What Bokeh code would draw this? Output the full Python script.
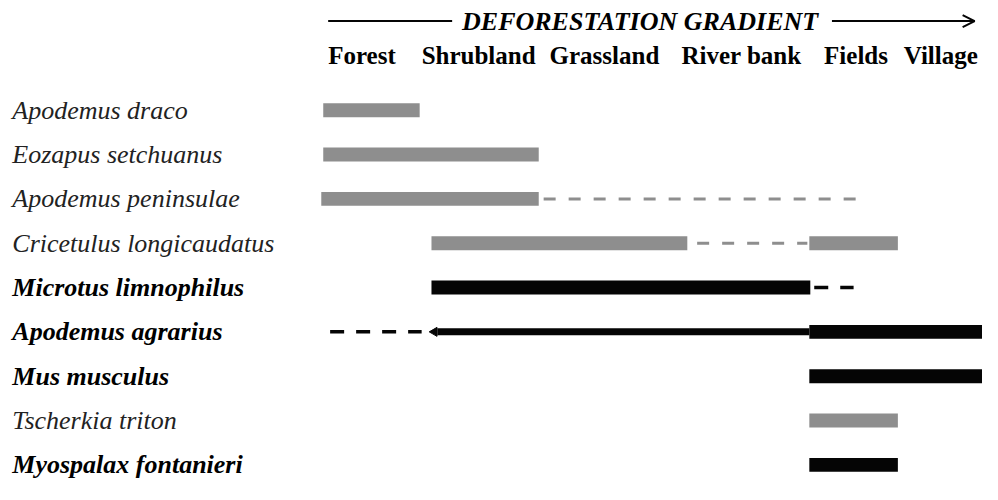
import math
from bokeh.plotting import figure
from bokeh.models import Range1d, Arrow, OpenHead, ColumnDataSource
from bokeh.core.properties import value
from bokeh.embed import file_html
from bokeh.resources import INLINE

# ---------------- data ----------------
species = ["Apodemus draco", "Eozapus setchuanus", "Apodemus peninsulae",
           "Cricetulus longicaudatus", "Microtus limnophilus", "Apodemus agrarius",
           "Mus musculus", "Tscherkia triton", "Myospalax fontanieri"]
species_group = ["grey", "grey", "grey", "grey", "black", "black", "black", "grey", "black"]

habitats = ["Forest", "Shrubland", "Grassland", "River bank", "Fields", "Village"]
habitat_start = [333, 428, 558, 692, 837, 918]

gradient_title = "DEFORESTATION GRADIENT"

# solid occurrence bars (row index, start, end along gradient)
bar_row = [0, 1, 2, 3, 3, 4, 5, 6, 7, 8]
bar_start = [328, 328, 326, 438, 822, 438, 822, 822, 822, 822]
bar_end = [426, 547, 547, 698, 912, 823, 998, 998, 912, 912]
bar_group = ["grey", "grey", "grey", "grey", "grey", "black", "black", "black", "grey", "black"]

# uncertain / occasional occurrence (dashed)
dash_row = [2, 3, 4, 5]
dash_start = [552, 708, 827, 335]
dash_end = [872, 820, 867, 428]
dash_group = ["grey", "grey", "black", "black"]

# low-density occurrence (thin line)
thin_row = [5]
thin_start = [444]
thin_end = [822]

# header arrow (gradient direction)
arrow_left = [333, 459]
arrow_right = [845, 990]

# ---------------- layout ----------------
ROW0 = 114.5      # reference pixel of first row
STEP = 46.25      # pixel per row
def px2row(py):
    return (py - ROW0) / STEP

HEADER_ARROW_Y = px2row(21.5)
HEADER_TITLE_Y = px2row(21.5)
HEADER_LABEL_Y = px2row(57.5)

GREY = "#8e8e8e"
BLACK = "#050505"
colors = {"grey": GREY, "black": BLACK}

p = figure(width=982, height=484, output_backend="svg", toolbar_location=None,
           x_range=Range1d(0, 998),
           y_range=Range1d(px2row(505), px2row(0)),
           min_border=0, min_border_left=0, min_border_right=0,
           min_border_top=0, min_border_bottom=0)
p.axis.visible = False
p.grid.visible = False
p.outline_line_color = None
p.background_fill_color = "white"
p.border_fill_color = "white"

# bars
bsrc = ColumnDataSource(dict(y=bar_row, left=bar_start, right=bar_end,
                             color=[colors[g] for g in bar_group]))
p.hbar(y="y", left="left", right="right", height=14.5 / STEP, fill_color="color",
       line_color=None, source=bsrc)

# dashed lines
for grp, dash, width in [("grey", "12 13", 3), ("black", "14 12", 3.5)]:
    idx = [i for i, g in enumerate(dash_group) if g == grp]
    p.segment(x0=[dash_start[i] for i in idx], x1=[dash_end[i] for i in idx],
              y0=[dash_row[i] for i in idx], y1=[dash_row[i] for i in idx],
              line_color=colors[grp], line_width=width, line_dash=dash)

# thin line with pointed tip
p.segment(x0=thin_start, x1=thin_end, y0=thin_row, y1=thin_row,
          line_color=BLACK, line_width=7)
p.scatter(x=[s - 3 for s in thin_start], y=thin_row, marker="triangle", size=9,
          angle=math.pi / 2, fill_color=BLACK, line_color=BLACK)

# species labels
for grp, style, col in [("grey", "italic", "#222222"), ("black", "bold italic", "#000000")]:
    idx = [i for i, g in enumerate(species_group) if g == grp]
    p.text(x=[12] * len(idx), y=idx, text=[species[i] for i in idx],
           text_font=value("Liberation Serif"), text_font_style=value(style),
           text_font_size="26px", text_color=col, text_baseline="middle",
           text_align="left")

# header labels
p.text(x=habitat_start, y=[HEADER_LABEL_Y] * len(habitats), text=habitats,
       text_font=value("Liberation Serif"), text_font_style=value("bold"),
       text_font_size="25px", text_color="#000000", text_baseline="middle",
       text_align="left")
p.text(x=[(arrow_right[0] + arrow_left[1]) / 2 - 2], y=[HEADER_TITLE_Y], text=[gradient_title],
       text_font=value("Liberation Serif"), text_font_style=value("bold italic"),
       text_font_size="26px", text_color="#000000", text_baseline="middle",
       text_align="center")

# header arrow
p.segment(x0=[arrow_left[0]], x1=[arrow_left[1]], y0=[HEADER_ARROW_Y], y1=[HEADER_ARROW_Y],
          line_color=BLACK, line_width=2)
p.add_layout(Arrow(end=OpenHead(size=12, line_width=2, line_color=BLACK),
                   x_start=arrow_right[0], x_end=arrow_right[1],
                   y_start=HEADER_ARROW_Y, y_end=HEADER_ARROW_Y,
                   line_width=2, line_color=BLACK))

open("out.html", "w").write(file_html(p, INLINE))
